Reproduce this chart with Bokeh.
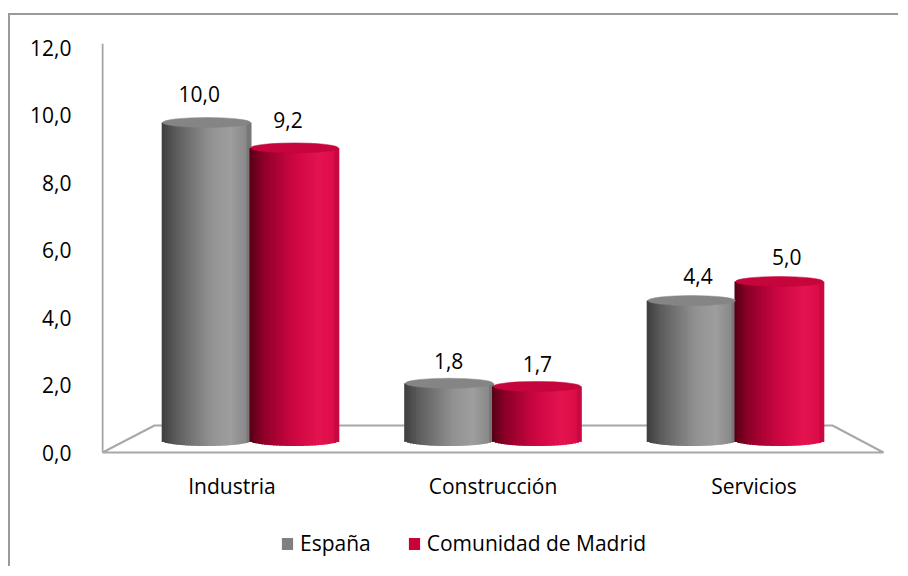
import math
from bokeh.plotting import figure
from bokeh.models import (Range1d, FixedTicker, CustomJSTickFormatter,
                          Legend, LegendItem, ColumnDataSource)
from bokeh.core.properties import value
from bokeh.embed import file_html
from bokeh.resources import INLINE

# ---------------- data ----------------
categories = ["Industria", "Construcción", "Servicios"]
series_names = ["España", "Comunidad de Madrid"]
espana = [10.0, 1.8, 4.4]
madrid = [9.2, 1.7, 5.0]
y_ticks = [0, 2, 4, 6, 8, 10, 12]
series_colors = ["#808080", "#c8003c"]

# ---------------- styling / layout ----------------
FONT = "Open Sans"
W, H = 890, 553
FL, FR, FT, FB = 91, 16, 28, 0
FRAME_H = H - FT - FB          # frame reaches the bottom so the legend fits inside
FRAME_W = W - FL - FR

# main (axis) scale: 0 sits 116px above frame bottom, 12 sits 4.5px below frame top
ppu_main = (FRAME_H - 116 - 4.5) / 12.0
main_start = -116 / ppu_main
main_end = 12 + 4.5 / ppu_main

# perspective scales of the 3D bars / labels
ppu_bar = 31.8
bar_y_start = -128 / ppu_bar
bar_y_end = bar_y_start + FRAME_H / ppu_bar
ppu_lab = 32.5
lab_y_start = -149.5 / ppu_lab
lab_y_end = lab_y_start + FRAME_H / ppu_lab

ppx_main = FRAME_W / len(categories)
ppx_bar = 242.5
bx_start = 1.5 - FRAME_W / 2 / ppx_bar
bx_end = 1.5 + FRAME_W / 2 / ppx_bar
ppx_lab = 249.3
lx_start = 1.5 - FRAME_W / 2 / ppx_lab
lx_end = 1.5 + FRAME_W / 2 / ppx_lab

cat_pos = [i + 0.5 for i in range(len(categories))]

p = figure(width=W, height=H, x_range=Range1d(0, len(categories)),
           y_range=Range1d(main_start, main_end),
           output_backend="svg", toolbar_location=None,
           min_border_left=FL, min_border_right=FR, min_border_top=FT, min_border_bottom=FB)
p.extra_x_ranges = {"bx": Range1d(bx_start, bx_end), "lx": Range1d(lx_start, lx_end)}
p.extra_y_ranges = {"by": Range1d(bar_y_start, bar_y_end), "ly": Range1d(lab_y_start, lab_y_end)}
p.margin = (13, 0, 0, 8)
p.styles = {"border-left": "2px solid #9a9a9a", "border-top": "2px solid #9a9a9a"}
p.outline_line_color = None
p.xgrid.visible = False
p.ygrid.visible = False
p.xaxis.visible = False
p.background_fill_color = "white"
p.border_fill_color = "white"

# y axis (labels only; its line is drawn as the front edge of the 3D wall)
p.yaxis.ticker = FixedTicker(ticks=y_ticks)
p.yaxis.formatter = CustomJSTickFormatter(code="return tick.toFixed(1).replace('.', ',');")
p.yaxis.axis_line_color = None
p.yaxis.major_tick_line_color = None
p.yaxis.minor_tick_line_color = None
p.yaxis.major_label_standoff = 24
p.yaxis.major_label_text_font = FONT
p.yaxis.major_label_text_font_size = "21px"
p.yaxis.major_label_text_color = "black"

# vertical axis line from 0 up to the top of the frame
p.segment(x0=[1 / ppx_main], y0=[y_ticks[0]], x1=[1 / ppx_main], y1=[main_end],
          line_color="#a3a3a3", line_width=2)

# category labels under the floor
p.text(x=cat_pos, y=[y_ticks[0]] * len(categories), text=categories,
       text_align="center", text_baseline="middle", y_offset=33,
       text_font=value(FONT), text_font_size="21px", text_color="black")

# floor (3D base plane)
back_y = 27 / ppu_main
fl_x0 = bx_start + 1 / ppx_bar
fl_x1 = bx_start + 782 / ppx_bar
p.line(x=[fl_x0, fl_x0 + 52 / ppx_bar, fl_x1 - 51 / ppx_bar, fl_x1, fl_x0],
       y=[0, back_y, back_y, 0, 0], x_range_name="bx",
       line_color="#a8a8a8", line_width=2)

# cylinders
grey_stops = [(0.0, (62, 62, 62)), (0.18, (95, 95, 95)), (0.55, (145, 145, 145)),
              (0.78, (158, 158, 158)), (0.95, (138, 138, 138)), (1.0, (110, 110, 110))]
red_stops = [(0.0, (85, 0, 20)), (0.15, (140, 0, 40)), (0.5, (205, 6, 66)),
             (0.8, (228, 20, 80)), (0.95, (220, 12, 72)), (1.0, (190, 6, 60))]


def shade(stops, u):
    for (u0, c0), (u1, c1) in zip(stops[:-1], stops[1:]):
        if u0 <= u <= u1:
            t = (u - u0) / (u1 - u0)
            r, g, b = (int(round(a + (bb - a) * t)) for a, bb in zip(c0, c1))
            return "#%02x%02x%02x" % (r, g, b)
    return "#%02x%02x%02x" % stops[-1][1]


N = 30
bw = 0.362
off = 0.181
hb = 5.5 / ppu_bar
base = dict(x=[], top=[], color=[])
stripes = dict(x=[], top=[], bottom=[], color=[])
caps = dict(x=[], y=[], color=[])
labels = dict(x=[], y=[], text=[])
for s, (vals, stops, cap) in enumerate([(espana, grey_stops, "#858585"),
                                        (madrid, red_stops, "#c6053c")]):
    for i, v in enumerate(vals):
        cx = cat_pos[i] + (-off if s == 0 else off)
        base["x"].append(cx)
        base["top"].append(v)
        base["color"].append(series_colors[s])
        for k in range(N):
            u = (k + 0.5) / N
            stripes["x"].append(cx - bw / 2 + u * bw)
            stripes["top"].append(v)
            stripes["bottom"].append(-hb * math.sqrt(max(0.0, 1 - (2 * u - 1) ** 2)))
            stripes["color"].append(shade(stops, u))
        caps["x"].append(cx)
        caps["y"].append(v)
        caps["color"].append(cap)
        labels["x"].append(cat_pos[i] + (-0.178 if s == 0 else 0.178))
        labels["y"].append(v)
        labels["text"].append(("%.1f" % v).replace(".", ","))

# flat-coloured bars (series colour, also used by the legend), shaded on top
r_base = p.vbar(x="x", top="top", bottom=0, width=bw * 0.98, fill_color="color",
                line_color=None, source=ColumnDataSource(base),
                x_range_name="bx", y_range_name="by")
p.vbar(x="x", top="top", bottom="bottom", width=bw / N * 1.7, fill_color="color",
       line_color=None, source=ColumnDataSource(stripes),
       x_range_name="bx", y_range_name="by")
p.ellipse(x="x", y="y", width=bw, height=10, height_units="screen",
          fill_color="color", line_color="color", line_width=0.5,
          source=ColumnDataSource(caps), x_range_name="bx", y_range_name="by")

p.text(x="x", y="y", text="text", source=ColumnDataSource(labels),
       x_range_name="lx", y_range_name="ly", text_align="center",
       text_baseline="middle", text_font=value(FONT), text_font_size="21px",
       text_color="black")

# legend
legend = Legend(items=[LegendItem(label=series_names[0], renderers=[r_base], index=0),
                       LegendItem(label=series_names[1], renderers=[r_base], index=len(espana))],
                location=(179, 11), orientation="horizontal",
                glyph_width=14, glyph_height=15, label_standoff=6, spacing=36,
                padding=0, margin=0, border_line_color=None, background_fill_alpha=0,
                label_text_font=FONT, label_text_font_size="21px", label_text_color="black")
p.add_layout(legend)

open("out.html", "w").write(file_html(p, INLINE))
